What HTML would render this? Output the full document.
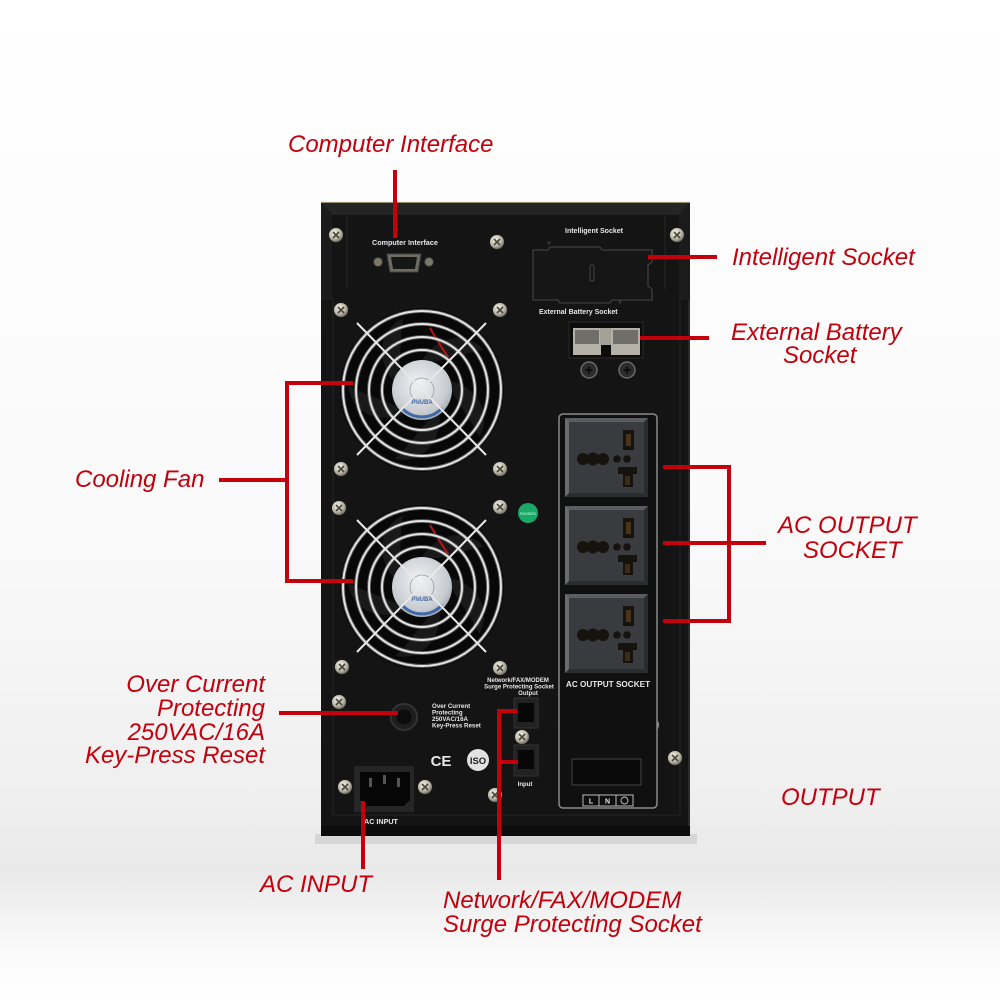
<!DOCTYPE html>
<html><head><meta charset="utf-8"><style>
html,body{margin:0;padding:0;background:#fff;}
svg{display:block;}
.lbl{font-family:"Liberation Sans",Arial,sans-serif;font-style:italic;font-size:24px;fill:#c4000c;}
.sm{font-family:"Liberation Sans",Arial,sans-serif;font-weight:bold;fill:#e6e6e6;}
</style></head><body>
<svg width="1000" height="1000" viewBox="0 0 1000 1000" xmlns="http://www.w3.org/2000/svg">
<defs>
 <linearGradient id="bg" x1="0" y1="0" x2="0" y2="1">
  <stop offset="0" stop-color="#ffffff"/>
  <stop offset="0.55" stop-color="#f9f9f9"/>
  <stop offset="0.8" stop-color="#efefef"/>
  <stop offset="0.87" stop-color="#e9e9e9"/>
  <stop offset="0.95" stop-color="#fafafa"/>
  <stop offset="1" stop-color="#ffffff"/>
 </linearGradient>
 <radialGradient id="scr" cx="0.4" cy="0.35" r="0.7">
  <stop offset="0" stop-color="#f4f2e8"/>
  <stop offset="0.6" stop-color="#b8b4a4"/>
  <stop offset="1" stop-color="#5a584f"/>
 </radialGradient>
 <radialGradient id="hub" cx="0.45" cy="0.4" r="0.7">
  <stop offset="0" stop-color="#f2f3f5"/>
  <stop offset="0.7" stop-color="#c7cbd0"/>
  <stop offset="1" stop-color="#8d939a"/>
 </radialGradient>
 <g id="screw">
  <circle r="7.5" fill="url(#scr)" stroke="#1a1a1a" stroke-width="1"/>
  <path d="M-3,-3 L3,3 M3,-3 L-3,3" stroke="#4a463c" stroke-width="1.6"/>
 </g>
 <g id="dscrew">
  <circle r="8" fill="#2c2c2c" stroke="#6a6a6a" stroke-width="1.5"/>
  <path d="M-3.5,0 H3.5 M0,-3.5 V3.5" stroke="#0e0e0e" stroke-width="2"/>
 </g>
 <g id="fan">
  <circle r="82" fill="#080808"/>
  <g fill="#191919">
   <path d="M0,-30 C20,-60 50,-55 62,-40 C45,-38 25,-30 10,-28 Z"/>
   <path d="M0,-30 C20,-60 50,-55 62,-40 C45,-38 25,-30 10,-28 Z" transform="rotate(72)"/>
   <path d="M0,-30 C20,-60 50,-55 62,-40 C45,-38 25,-30 10,-28 Z" transform="rotate(144)"/>
   <path d="M0,-30 C20,-60 50,-55 62,-40 C45,-38 25,-30 10,-28 Z" transform="rotate(216)"/>
   <path d="M0,-30 C20,-60 50,-55 62,-40 C45,-38 25,-30 10,-28 Z" transform="rotate(288)"/>
  </g>
  <path d="M8,-62 C15,-50 20,-42 26,-33" stroke="#b01414" stroke-width="2.2" fill="none"/>
  <circle r="30" fill="url(#hub)"/>
  <path d="M-20,18 A27,27 0 0 0 20,18" fill="none" stroke="#3f6aa8" stroke-width="3"/>
  <text x="0" y="14" font-family="Liberation Sans,sans-serif" font-weight="bold" font-size="6" fill="#3f6aa8" text-anchor="middle">PNUBA</text>
  <circle r="12" fill="none" stroke="#9aa0a6" stroke-width="0.8"/>
  <g fill="none" stroke="#5a5a5a" stroke-width="3.8">
   <circle r="79"/><circle r="66"/><circle r="53"/><circle r="40"/>
  </g>
  <g fill="none" stroke="#e4e4e4" stroke-width="1.9">
   <circle r="79"/><circle r="66"/><circle r="53"/><circle r="40"/>
  </g>
  <g stroke="#e8e8e8" stroke-width="2">
   <line x1="-65" y1="-67" x2="64" y2="65"/>
   <line x1="64" y1="-67" x2="-65" y2="65"/>
  </g>
 </g>
 <g id="sock">
  <rect x="0" y="0" width="83" height="79" fill="#5b5d60"/>
  <rect x="4" y="4" width="75" height="71" fill="#3a3b3e"/>
  <path d="M0,0 L4,4 L4,75 L0,79 Z" fill="#6a6c70"/>
  <path d="M83,0 L79,4 L79,75 L83,79 Z" fill="#2a2b2d"/>
  <path d="M0,79 L4,75 L79,75 L83,79 Z" fill="#2c2d2f"/>
  <g fill="#16120e">
   <circle cx="18" cy="41" r="6"/><circle cx="28" cy="41" r="6.5"/><circle cx="38" cy="41" r="6"/>
   <circle cx="52" cy="41" r="3.8"/><circle cx="62" cy="41" r="3.8"/>
   <rect x="58" y="12" width="11" height="20"/>
   <rect x="53" y="49" width="19" height="7"/>
   <rect x="58" y="56" width="10" height="13"/>
  </g>
  <rect x="61" y="16" width="5" height="12" fill="#4a3418"/>
  <rect x="60" y="58" width="5" height="9" fill="#3d2c16"/>
 </g>
</defs>

<rect x="0" y="0" width="1000" height="1000" fill="url(#bg)"/>

<!-- floor shadow -->
<rect x="315" y="834" width="382" height="10" fill="#c8c8c8" opacity="0.6"/>

<!-- body -->
<rect x="321" y="202" width="369" height="634" fill="#141414"/>
<line x1="321" y1="202.5" x2="690" y2="202.5" stroke="#9b9273" stroke-width="1.2"/>
<polygon points="321,203 690,203 679,214 332,214" fill="#242424"/>
<polygon points="321,203 332,214 332,300 321,300" fill="#1b1b1b"/>
<polygon points="690,203 679,214 679,300 690,300" fill="#1b1b1b"/>
<line x1="332" y1="214" x2="679" y2="214" stroke="#2e2e2e" stroke-width="1"/>
<line x1="347" y1="216" x2="347" y2="290" stroke="#262626" stroke-width="1"/>
<line x1="665" y1="216" x2="665" y2="290" stroke="#262626" stroke-width="1"/>
<path d="M333,298 L333,815 L680,815 L680,298" fill="none" stroke="#252525" stroke-width="1"/>
<line x1="689" y1="300" x2="689" y2="836" stroke="#3a3a3a" stroke-width="1.2"/>
<rect x="321" y="826" width="369" height="10" fill="#0c0c0c"/>

<!-- screws -->
<use href="#screw" x="336" y="235"/>
<use href="#screw" x="497" y="242"/>
<use href="#screw" x="677" y="235"/>
<use href="#screw" x="341" y="310"/>
<use href="#screw" x="500" y="310"/>
<use href="#screw" x="341" y="469"/>
<use href="#screw" x="500" y="469"/>
<use href="#screw" x="339" y="508"/>
<use href="#screw" x="500" y="507"/>
<use href="#screw" x="342" y="667"/>
<use href="#screw" x="500" y="668"/>
<use href="#screw" x="339" y="702"/>
<use href="#screw" x="522" y="737"/>
<use href="#screw" x="345" y="787"/>
<use href="#screw" x="425" y="787"/>
<use href="#screw" x="495" y="795"/>
<use href="#screw" x="566" y="722"/>
<use href="#screw" x="652" y="725"/>
<use href="#screw" x="675" y="758"/>

<!-- computer interface -->
<text class="sm" x="372" y="245" font-size="7.2">Computer  Interface</text>
<circle cx="378" cy="262" r="4.5" fill="#7c7868" stroke="#333" stroke-width="1"/>
<circle cx="429" cy="262" r="4.5" fill="#7c7868" stroke="#333" stroke-width="1"/>
<path d="M387,254 L421,254 L418,272 L390,272 Z" fill="#6e6b60" stroke="#444" stroke-width="1"/>
<path d="M391,257 L417,257 L415,269 L393,269 Z" fill="#161616"/>

<!-- intelligent socket -->
<text class="sm" x="565" y="233" font-size="7">Intelligent Socket</text>
<path d="M533,250 L548,250 L550,247 L600,247 L602,250 L652,250 L652,262 L648,265 L648,286 L652,289 L652,300 L612,300 L610,303 L560,303 L558,300 L533,300 Z" fill="#161616" stroke="#3e3e3e" stroke-width="1.3"/>
<rect x="590" y="265" width="4" height="16" rx="1.5" fill="none" stroke="#444" stroke-width="1"/>
<circle cx="549" cy="243" r="1.6" fill="#333"/><circle cx="620" cy="302" r="1.6" fill="#333"/>

<!-- battery socket -->
<text class="sm" x="539" y="314" font-size="7">External Battery Socket</text>
<rect x="569" y="322" width="74" height="36" fill="#0c0c0c" stroke="#2a2a2a"/>
<rect x="573" y="328" width="28" height="27" fill="#b4b2a8"/>
<rect x="575" y="330" width="24" height="14" fill="#6f6e69"/>
<rect x="600" y="328" width="12" height="17" fill="#a3a198"/>
<rect x="611" y="328" width="29" height="27" fill="#b4b2a8"/>
<rect x="613" y="330" width="25" height="14" fill="#6f6e69"/>
<use href="#dscrew" x="589" y="370"/>
<use href="#dscrew" x="627" y="370"/>

<!-- fans -->
<use href="#fan" x="422" y="390"/>
<use href="#fan" x="422" y="587"/>

<!-- green -->
<circle cx="528" cy="513" r="10" fill="#1aa866"/>
<text x="528" y="515" font-family="Liberation Sans,sans-serif" font-size="4" fill="#dfe" text-anchor="middle">PASSED</text>

<!-- AC output panel -->
<rect x="559" y="414" width="98" height="394" rx="4" fill="#101010" stroke="#8a8a8a" stroke-width="1.5"/>
<use href="#sock" x="565" y="418"/>
<use href="#sock" x="565" y="506"/>
<use href="#sock" x="565" y="594"/>
<text class="sm" x="608" y="687" font-size="8.2" text-anchor="middle">AC OUTPUT SOCKET</text>
<rect x="572" y="759" width="69" height="26" fill="#0a0a0a" stroke="#3c3c3c" stroke-width="1.2"/>
<rect x="583" y="795" width="50" height="11" fill="#0e0e0e" stroke="#bbb" stroke-width="1"/>
<line x1="599" y1="795" x2="599" y2="806" stroke="#bbb" stroke-width="1"/>
<line x1="616" y1="795" x2="616" y2="806" stroke="#bbb" stroke-width="1"/>
<text class="sm" x="591" y="803.5" font-size="7" text-anchor="middle">L</text>
<text class="sm" x="607.5" y="803.5" font-size="7" text-anchor="middle">N</text>
<circle cx="624.5" cy="800.5" r="3.5" fill="none" stroke="#ccc" stroke-width="0.9"/>

<!-- over current -->
<circle cx="404" cy="717" r="13" fill="#1e1e1e" stroke="#333" stroke-width="2"/>
<circle cx="404" cy="717" r="7.5" fill="#0c0c0c"/>
<g class="sm" font-size="6.2">
 <text x="432" y="708">Over Current</text>
 <text x="432" y="714.5">Protecting</text>
 <text x="432" y="721">250VAC/16A</text>
 <text x="432" y="727.5">Key-Press Reset</text>
</g>

<!-- network -->
<g class="sm" font-size="6" text-anchor="middle">
 <text x="518" y="682">Network/FAX/MODEM</text>
 <text x="519" y="688.5">Surge Protecting Socket</text>
 <text x="528" y="695">Output</text>
 <text x="525" y="786">Input</text>
</g>
<rect x="514" y="698" width="24" height="30" fill="#222" stroke="#333"/>
<rect x="518" y="703" width="16" height="19" fill="#070707"/>
<rect x="514" y="745" width="24" height="31" fill="#222" stroke="#333"/>
<rect x="518" y="750" width="16" height="19" fill="#070707"/>

<!-- CE / ISO -->
<text x="441" y="766" font-family="Liberation Sans,sans-serif" font-weight="bold" font-size="15" fill="#e8e8e8" text-anchor="middle">CE</text>
<circle cx="478" cy="760" r="11" fill="#e2e2e2"/>
<text x="478" y="764" font-family="Liberation Sans,sans-serif" font-weight="bold" font-size="9.5" fill="#222" text-anchor="middle">ISO</text>

<!-- AC input -->
<rect x="354" y="766" width="60" height="46" fill="#262626"/>
<path d="M360,772 L410,772 L410,800 L404,806 L366,806 L360,800 Z" fill="#060606"/>
<rect x="369" y="778" width="3" height="9" fill="#555"/>
<rect x="383" y="775" width="3" height="9" fill="#555"/>
<rect x="397" y="778" width="3" height="9" fill="#555"/>
<text class="sm" x="364" y="824" font-size="7.2">AC INPUT</text>

<!-- red leader lines -->
<g stroke="#c4000c" stroke-width="4" fill="none" stroke-linecap="butt">
 <line x1="395" y1="170" x2="395" y2="238"/>
 <line x1="648" y1="257" x2="717" y2="257"/>
 <line x1="640" y1="338" x2="709" y2="338"/>
 <line x1="219" y1="480" x2="287" y2="480"/>
 <polyline points="353,383 287,383 287,581 353,581"/>
 <polyline points="663,467 729,467 729,621 663,621"/>
 <line x1="663" y1="543" x2="766" y2="543"/>
 <line x1="279" y1="713" x2="398" y2="713"/>
 <line x1="363" y1="801" x2="363" y2="869"/>
 <polyline points="517,711 499,711 499,880"/>
 <line x1="499" y1="762" x2="518" y2="762"/>
</g>

<!-- labels -->
<text class="lbl" x="288" y="152">Computer Interface</text>
<text class="lbl" x="732" y="265">Intelligent Socket</text>
<text class="lbl" x="731" y="340">External Battery</text>
<text class="lbl" x="783" y="363">Socket</text>
<text class="lbl" x="75" y="487">Cooling Fan</text>
<text class="lbl" x="778" y="533">AC OUTPUT</text>
<text class="lbl" x="803" y="558">SOCKET</text>
<g class="lbl" text-anchor="end">
 <text x="265" y="692">Over Current</text>
 <text x="265" y="716">Protecting</text>
 <text x="265" y="740">250VAC/16A</text>
 <text x="265" y="763">Key-Press Reset</text>
</g>
<text class="lbl" x="260" y="892">AC INPUT</text>
<text class="lbl" x="443" y="908">Network/FAX/MODEM</text>
<text class="lbl" x="443" y="932">Surge Protecting Socket</text>
<text class="lbl" x="781" y="805">OUTPUT</text>
</svg>
</body></html>
